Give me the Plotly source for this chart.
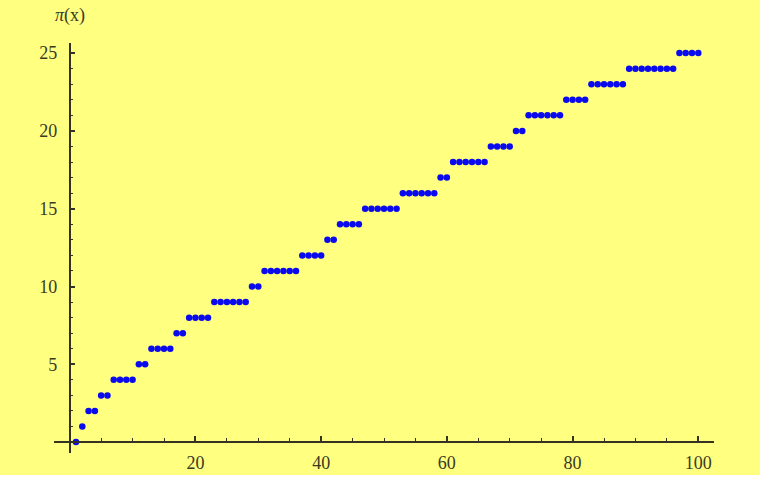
import plotly.graph_objects as go

# x values 1..100 and the prime-counting values
x_vals = list(range(1, 101))
pi_vals = [
    0, 1, 2, 2, 3, 3, 4, 4, 4, 4,
    5, 5, 6, 6, 6, 6, 7, 7, 8, 8,
    8, 8, 9, 9, 9, 9, 9, 9, 10, 10,
    11, 11, 11, 11, 11, 11, 12, 12, 12, 12,
    13, 13, 14, 14, 14, 14, 15, 15, 15, 15,
    15, 15, 16, 16, 16, 16, 16, 16, 17, 17,
    18, 18, 18, 18, 18, 18, 19, 19, 19, 19,
    20, 20, 21, 21, 21, 21, 21, 21, 22, 22,
    22, 22, 23, 23, 23, 23, 23, 23, 24, 24,
    24, 24, 24, 24, 24, 24, 25, 25, 25, 25,
]
x_ticks = [20, 40, 60, 80, 100]
y_ticks = [5, 10, 15, 20, 25]
y_title = "<i>π</i>(x)"

W, H = 765, 479
ML, MR, MT, MB = 54, 51, 43, 26
X_RANGE = [-2.5, 102.5]
Y_RANGE = [-0.7, 25.65]
AXIS_COLOR = "#33331f"
TEXT_COLOR = "#3a3a24"
BG = "#ffff80"

fig = go.Figure()
fig.add_trace(go.Scatter(
    x=x_vals, y=pi_vals, mode="markers",
    marker=dict(color="#0a0aee", size=6.5, line=dict(width=0)),
    cliponaxis=False, showlegend=False,
))

xpos = (0 - Y_RANGE[0]) / (Y_RANGE[1] - Y_RANGE[0])
ypos = (0 - X_RANGE[0]) / (X_RANGE[1] - X_RANGE[0])

font = dict(family="Liberation Serif, DejaVu Serif, serif", size=18, color=TEXT_COLOR)

fig.update_layout(
    width=W, height=H,
    margin=dict(l=ML, r=MR, t=MT, b=MB, pad=0, autoexpand=False),
    paper_bgcolor="white", plot_bgcolor=BG,
    xaxis=dict(
        range=X_RANGE, anchor="free", position=xpos, automargin=False,
        showgrid=False, zeroline=False,
        showline=True, linecolor=AXIS_COLOR, linewidth=1.5,
        tickmode="array", tickvals=x_ticks,
        ticks="inside", ticklen=5, tickwidth=1.5, tickcolor=AXIS_COLOR,
        minor=dict(tickmode="linear", tick0=0, dtick=5, ticks="inside",
                   ticklen=3, tickwidth=1.2, tickcolor=AXIS_COLOR, showgrid=False),
        tickfont=font, ticklabelstandoff=5,
    ),
    yaxis=dict(
        range=Y_RANGE, anchor="free", position=ypos, automargin=False,
        showgrid=False, zeroline=False,
        showline=True, linecolor=AXIS_COLOR, linewidth=1.5,
        tickmode="array", tickvals=y_ticks,
        ticks="inside", ticklen=5, tickwidth=1.5, tickcolor=AXIS_COLOR,
        minor=dict(tickmode="linear", tick0=0, dtick=1, ticks="inside",
                   ticklen=3, tickwidth=1.2, tickcolor=AXIS_COLOR, showgrid=False),
        tickfont=font, ticklabelstandoff=8,
    ),
    shapes=[dict(
        type="rect", xref="paper", yref="paper", layer="below",
        x0=-ML / (W - ML - MR), x1=1 + (MR - 5) / (W - ML - MR),
        y0=-(MB - 4) / (H - MT - MB), y1=1 + MT / (H - MT - MB),
        fillcolor=BG, line=dict(width=0),
    )],
    annotations=[dict(
        text=y_title, xref="paper", x=0, xshift=-1, xanchor="left",
        yref="paper", y=1 + (MT - 16) / (H - MT - MB), yanchor="middle",
        showarrow=False,
        font=dict(family="Liberation Serif, DejaVu Serif, serif", size=18, color=TEXT_COLOR),
    )],
)

fig.write_html("out.html")
